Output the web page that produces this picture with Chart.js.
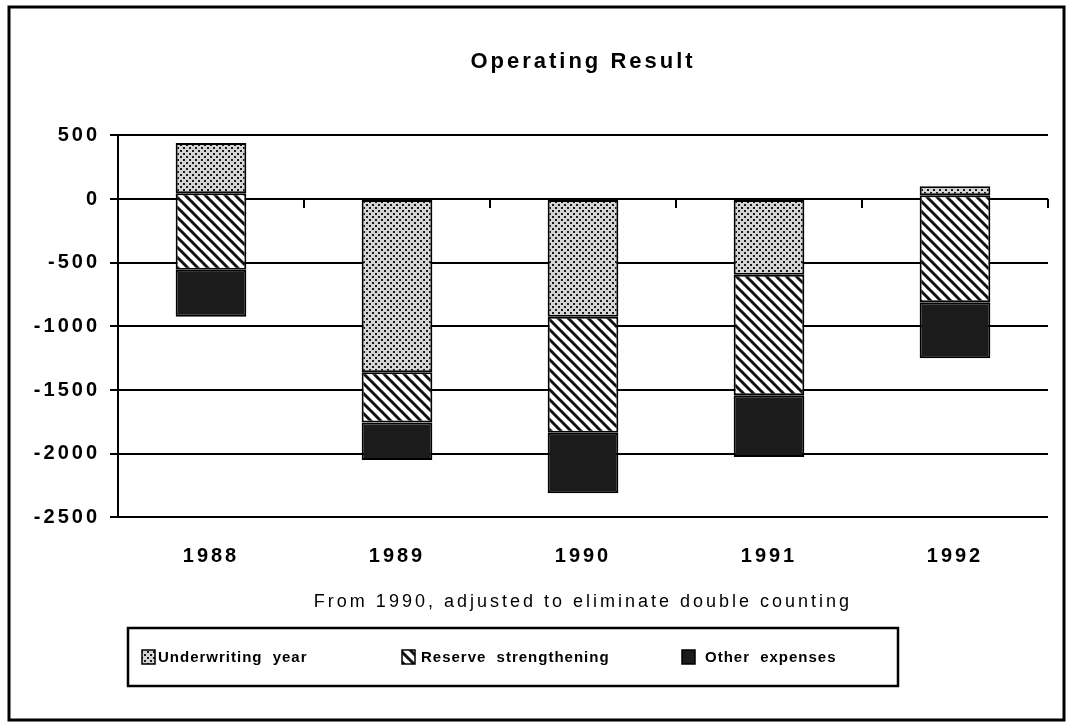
<!DOCTYPE html>
<html>
<head>
<meta charset="utf-8">
<script src="https://cdn.jsdelivr.net/npm/chart.js@4"></script>
<style>
html, body { margin: 0; padding: 0; background: #fff; }
</style>
</head>
<body>
<canvas id="chart" width="1066" height="724"></canvas>
<script>
// values (floating segments, top and bottom of each block)
const years = ['1988', '1989', '1990', '1991', '1992']
const underwritingTop = [440, 0, 0, 0, 100]
const underwritingBottom = [45, -1360, -925, -595, 30]
const reserveBottom = [-555, -1755, -1835, -1540, -810]
const otherBottom = [-925, -2050, -2310, -2025, -1250]
const seriesNames = ['Underwriting year', 'Reserve strengthening', 'Other expenses']
const yTicks = [500, 0, -500, -1000, -1500, -2000, -2500]

const FONT = '"Liberation Sans", Arial, sans-serif'

const makeDots = function () {
    var c = document.createElement('canvas')
    c.width = 6; c.height = 6
    var g = c.getContext('2d')
    g.fillStyle = '#d4d4d4'
    g.fillRect(0, 0, 6, 6)
    g.fillStyle = '#1a1a1a'
    g.fillRect(0, 0, 2, 2)
    g.fillRect(3, 3, 2, 2)
    return g.createPattern(c, 'repeat')
}

const makeHatch = function () {
    var s = 10
    var c = document.createElement('canvas')
    c.width = s; c.height = s
    var g = c.getContext('2d')
    g.fillStyle = '#fff'
    g.fillRect(0, 0, s, s)
    g.strokeStyle = '#111'
    g.lineWidth = 3
    for (var k = -1; k <= 1; k++) {
        g.beginPath()
        g.moveTo(k * s - 1, -1)
        g.lineTo(k * s + s + 1, s + 1)
        g.stroke()
    }
    return g.createPattern(c, 'repeat')
}

const fills = [makeDots(), makeHatch(), '#1b1b1b']

const pairs = function (a, b) {
    return a.map((v, i) => [b[i], v])
}

const data = {
    labels: years,
    datasets: [
        { label: seriesNames[0], data: pairs(underwritingTop, underwritingBottom) },
        { label: seriesNames[1], data: pairs(underwritingBottom, reserveBottom) },
        { label: seriesNames[2], data: pairs(reserveBottom, otherBottom) }
    ]
}
data.datasets.forEach((ds, i) => {
    ds.backgroundColor = fills[i]
    ds.borderColor = '#000'
    ds.borderWidth = 2
    ds.borderSkipped = false
    ds.barPercentage = 0.38
    ds.categoryPercentage = 1
})

const framePlugin = {
    id: 'frame',
    beforeDraw(chart) {
        var ctx = chart.ctx
        ctx.save()
        ctx.fillStyle = '#fff'
        ctx.fillRect(0, 0, chart.width, chart.height)
        ctx.strokeStyle = '#000'
        ctx.lineWidth = 3
        ctx.strokeRect(9, 7, 1055, 713)
        ctx.restore()
        ctx.letterSpacing = '3px'
    },
    afterDraw(chart) {
        var ctx = chart.ctx
        var x = chart.scales.x
        var y0 = chart.scales.y.getPixelForValue(0)
        var half = (x.getPixelForValue(1) - x.getPixelForValue(0)) / 2
        ctx.save()
        ctx.strokeStyle = '#000'
        ctx.lineWidth = 2
        for (var i = 0; i < years.length; i++) {
            var px = Math.round(x.getPixelForValue(i) + half)
            ctx.beginPath()
            ctx.moveTo(px, y0)
            ctx.lineTo(px, y0 + 9)
            ctx.stroke()
        }
        // legend box
        ctx.lineWidth = 2.5
        ctx.strokeRect(128, 628, 770, 58)
        var spots = [[142, 158], [402, 421], [682, 705]]
        ctx.font = 'bold 15px ' + FONT
        ctx.letterSpacing = '1px'
        ctx.wordSpacing = '5px'
        ctx.textBaseline = 'middle'
        chart.data.datasets.forEach((ds, i) => {
            ctx.fillStyle = ds.backgroundColor
            ctx.fillRect(spots[i][0], 650, 13, 14)
            ctx.lineWidth = 1.5
            ctx.strokeRect(spots[i][0], 650, 13, 14)
            ctx.fillStyle = '#000'
            ctx.fillText(ds.label, spots[i][1], 658)
        })
        ctx.restore()
    }
}

var chart = new Chart(document.getElementById('chart'), {
    type: 'bar',
    data: data,
    plugins: [framePlugin],
    options: {
        responsive: false,
        animation: false,
        layout: { padding: { left: 10, right: 18, top: 0, bottom: 111 } },
        plugins: {
            legend: { display: false },
            tooltip: { enabled: false },
            title: {
                display: true,
                fullSize: false,
                text: 'Operating Result',
                color: '#000',
                font: { family: FONT, size: 22, weight: 'bold' },
                padding: { top: 49, bottom: 60 }
            }
        },
        scales: {
            x: {
                stacked: true,
                grid: { display: false, drawTicks: false },
                border: { display: false },
                ticks: { color: '#000', font: { family: FONT, size: 20, weight: 'bold' }, padding: 27 },
                title: {
                    display: true,
                    text: 'From 1990, adjusted to eliminate double counting',
                    color: '#000',
                    font: { family: FONT, size: 18 },
                    padding: { top: -4, bottom: 0 }
                }
            },
            y: {
                stacked: false,
                min: yTicks[yTicks.length - 1],
                max: yTicks[0],
                afterFit: function (scale) { scale.width = 108 },
                ticks: {
                    stepSize: 500,
                    color: '#000',
                    font: { family: FONT, size: 20, weight: 'bold' },
                    padding: 10,
                    callback: function (v) { return String(v) }
                },
                grid: { color: '#000', lineWidth: 2, tickLength: 8 },
                border: { color: '#000', width: 2 }
            }
        }
    }
})
</script>
</body>
</html>
